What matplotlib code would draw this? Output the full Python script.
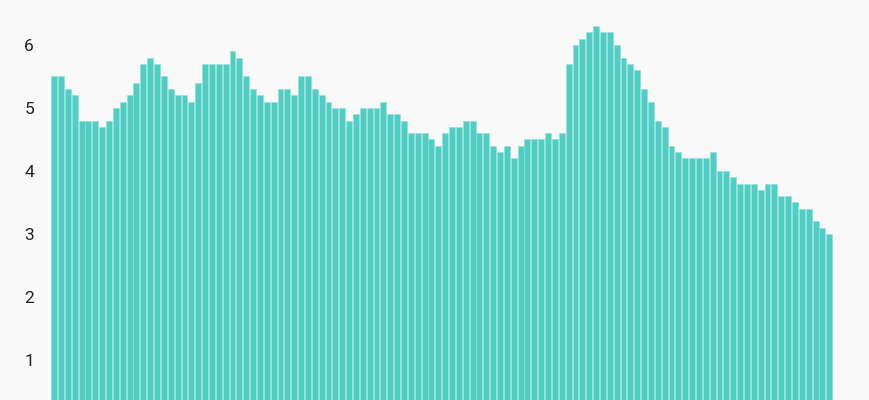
import matplotlib.pyplot as plt
import numpy as np

plt.rcParams['font.family'] = ['Roboto', 'DejaVu Sans']

# Values, one per bar
values = [
    5.5, 5.5, 5.3, 5.2, 4.8, 4.8, 4.8, 4.7, 4.8, 5.0,
    5.1, 5.2, 5.4, 5.7, 5.8, 5.7, 5.5, 5.3, 5.2, 5.2,
    5.1, 5.4, 5.7, 5.7, 5.7, 5.7, 5.9, 5.8, 5.5, 5.3,
    5.2, 5.1, 5.1, 5.3, 5.3, 5.2, 5.5, 5.5, 5.3, 5.2,
    5.1, 5.0, 5.0, 4.8, 4.9, 5.0, 5.0, 5.0, 5.1, 4.9,
    4.9, 4.8, 4.6, 4.6, 4.6, 4.5, 4.4, 4.6, 4.7, 4.7,
    4.8, 4.8, 4.6, 4.6, 4.4, 4.3, 4.4, 4.2, 4.4, 4.5,
    4.5, 4.5, 4.6, 4.5, 4.6, 5.7, 6.0, 6.1, 6.2, 6.3,
    6.2, 6.2, 6.0, 5.8, 5.7, 5.6, 5.3, 5.1, 4.8, 4.7,
    4.4, 4.3, 4.2, 4.2, 4.2, 4.2, 4.3, 4.0, 4.0, 3.9,
    3.8, 3.8, 3.8, 3.7, 3.8, 3.8, 3.6, 3.6, 3.5, 3.4,
    3.4, 3.2, 3.1, 3.0,
]
y_ticks = [1, 2, 3, 4, 5, 6]

bg = '#f9f9f9'
bar_color = '#50cec4'

W, H = 870, 400
fig = plt.figure(figsize=(W / 100, H / 100), dpi=100, facecolor=bg)
left_px, right_px = 50.7, 832.7
ax = fig.add_axes([left_px / W, 0, (right_px - left_px) / W, 1])
ax.set_facecolor(bg)

x = np.arange(len(values))
ax.bar(x, values, width=0.86, color=bar_color, edgecolor='#8fe0d9', linewidth=0.4)

ax.set_xlim(-0.5, len(values) - 0.5)
ax.set_ylim(0.365, 6.714)
ax.set_xticks([])
ax.set_yticks(y_ticks)
ax.set_yticklabels([str(t) for t in y_ticks], fontsize=12.5, color='#222222')
ax.tick_params(axis='y', length=0, pad=12)
for s in ax.spines.values():
    s.set_visible(False)

fig.savefig('out.png', dpi=100, facecolor=bg)
